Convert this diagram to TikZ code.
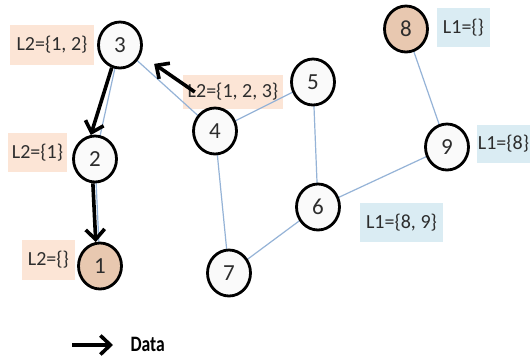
\documentclass[tikz,border=0pt]{standalone}
\usepackage{fontspec}
\setmainfont{Carlito}
\newfontfamily\datafont{Carlito}[FakeStretch=0.8]
\usetikzlibrary{shapes.geometric,arrows.meta}
\definecolor{edgeblue}{RGB}{149,179,215}
\definecolor{labor}{RGB}{252,229,214}
\definecolor{labbl}{RGB}{218,236,243}
\definecolor{tanfill}{RGB}{232,200,176}
\definecolor{nodewhite}{RGB}{250,250,250}
\definecolor{txt}{RGB}{45,45,45}
\tikzset{
  vert/.style={ellipse, draw=black, line width=2.8pt, fill=nodewhite,
    minimum width=43pt, minimum height=46pt, inner sep=0pt,
    text=txt, font=\fontsize{23}{25}\selectfont},
  marked/.style={vert, fill=tanfill},
  lbox/.style={rectangle, inner sep=0pt, text=txt,
    font=\fontsize{20}{22}\selectfont},
  orbox/.style={lbox, fill=labor},
  blbox/.style={lbox, fill=labbl},
  edge/.style={draw=edgeblue, line width=1.2pt},
  dataarrow/.style={draw=black, line width=3.6pt,
    -{Straight Barb[length=10pt,width=19pt,line width=3.6pt]}}
}
\begin{document}
\begin{tikzpicture}[x=1pt,y=-1pt]
\useasboundingbox[fill=white] (0,0) rectangle (530,360);
% label boxes
\node[orbox, minimum width=84pt, minimum height=40pt] (l3) at (52,45) {L2=\{1, 2\}};
\node[orbox, minimum width=59pt, minimum height=39pt] (l2) at (37.5,152.5) {L2=\{1\}};
\node[orbox, minimum width=100pt, minimum height=34pt] (l4) at (233,92) {L2=\{1, 2, 3\}};
\node[orbox, minimum width=53pt, minimum height=40pt] (l1) at (48.5,260) {L2=\{\}};
\node[blbox, minimum width=53pt, minimum height=39pt] (l8) at (463.5,27.5) {L1=\{\}};
\node[blbox, minimum width=53pt, minimum height=38pt] (l9) at (503.5,144) {L1=\{8\}};
\node[blbox, minimum width=83pt, minimum height=39pt] (l6) at (401.5,222.5) {L1=\{8, 9\}};
% vertex positions
\coordinate (c1) at (100,266);
\coordinate (c2) at (95,159);
\coordinate (c3) at (120,45);
\coordinate (c4) at (215,131);
\coordinate (c5) at (313,82);
\coordinate (c6) at (318,207);
\coordinate (c7) at (229,273);
\coordinate (c8) at (406,29);
\coordinate (c9) at (447,147);
% edges
\draw[edge] (c3) -- (c2);
\draw[edge] (c2) -- (c1);
\draw[edge] (c3) -- (c4);
\draw[edge] (c4) -- (c5);
\draw[edge] (c4) -- (c7);
\draw[edge] (c5) -- (c6);
\draw[edge] (c6) -- (c7);
\draw[edge] (c6) -- (c9);
\draw[edge] (c8) -- (c9);
% nodes
\node[marked] (n1) at (c1) {1};
\node[vert] (n2) at (c2) {2};
\node[vert] (n3) at (c3) {3};
\node[vert] (n4) at (c4) {4};
\node[vert] (n5) at (c5) {5};
\node[vert] (n6) at (c6) {6};
\node[vert] (n7) at (c7) {7};
\node[marked] (n8) at (c8) {8};
\node[vert] (n9) at (c9) {9};
% data arrows
\draw[dataarrow] (n3.250) -- (n2.100);
\draw[dataarrow] (n2.265) -- (n1.100);
\draw[dataarrow, shorten >=16pt] ([xshift=12pt]l4.west) -- (n3.-25);
% legend
\node[anchor=west, text=black, font=\datafont\bfseries\fontsize{22}{24}\selectfont] (data) at (127,344) {Data};
\coordinate (lgs) at (72,345);
\draw[dataarrow] (lgs) -- ([xshift=-14pt,yshift=-1pt]data.west);
\end{tikzpicture}
\end{document}
